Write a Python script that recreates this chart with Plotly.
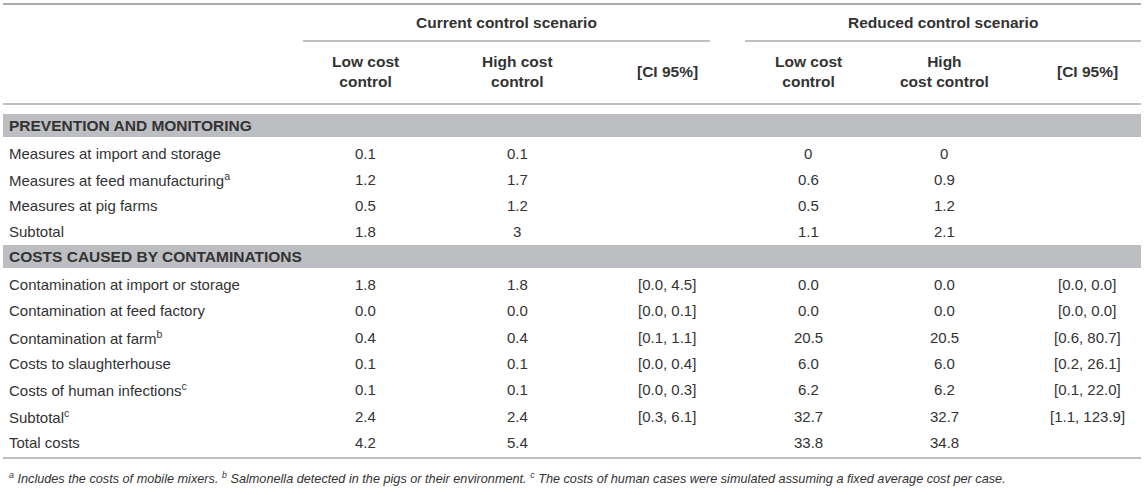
import plotly.graph_objects as go

# ---------------- data ----------------
group_headers = ["Current control scenario", "Reduced control scenario"]
col_headers = ["Low cost<br>control", "High cost<br>control", "[CI 95%]",
               "Low cost<br>control", "High<br>cost control", "[CI 95%]"]

section1_title = "PREVENTION AND MONITORING"
section1_rows = ["Measures at import and storage",
                 "Measures at feed manufacturing<sup>a</sup>",
                 "Measures at pig farms",
                 "Subtotal"]
s1_cur_low = ["0.1", "1.2", "0.5", "1.8"]
s1_cur_high = ["0.1", "1.7", "1.2", "3"]
s1_cur_ci = ["", "", "", ""]
s1_red_low = ["0", "0.6", "0.5", "1.1"]
s1_red_high = ["0", "0.9", "1.2", "2.1"]
s1_red_ci = ["", "", "", ""]

section2_title = "COSTS CAUSED BY CONTAMINATIONS"
section2_rows = ["Contamination at import or storage",
                 "Contamination at feed factory",
                 "Contamination at farm<sup>b</sup>",
                 "Costs to slaughterhouse",
                 "Costs of human infections<sup>c</sup>",
                 "Subtotal<sup>c</sup>",
                 "Total costs"]
s2_cur_low = ["1.8", "0.0", "0.4", "0.1", "0.1", "2.4", "4.2"]
s2_cur_high = ["1.8", "0.0", "0.4", "0.1", "0.1", "2.4", "5.4"]
s2_cur_ci = ["[0.0, 4.5]", "[0.0, 0.1]", "[0.1, 1.1]", "[0.0, 0.4]", "[0.0, 0.3]", "[0.3, 6.1]", ""]
s2_red_low = ["0.0", "0.0", "20.5", "6.0", "6.2", "32.7", "33.8"]
s2_red_high = ["0.0", "0.0", "20.5", "6.0", "6.2", "32.7", "34.8"]
s2_red_ci = ["[0.0, 0.0]", "[0.0, 0.0]", "[0.6, 80.7]", "[0.2, 26.1]", "[0.1, 22.0]", "[1.1, 123.9]", ""]

footnote = ("<sup>a</sup> Includes the costs of mobile mixers. "
            "<sup>b</sup> Salmonella detected in the pigs or their environment. "
            "<sup>c</sup> The costs of human cases were simulated assuming a fixed average cost per case.")

# ---------------- layout constants ----------------
W, H = 1145, 495
FONT = "Liberation Sans, Arial, Helvetica, sans-serif"
TXT = "#333333"
LINE = "#ababab"
BAND = "#bdbec1"
FS = 15
FS_B = 15.5

LEFT, RIGHT = 3, 1141
label_x = 7
col_x = [365, 517, 667, 808, 944, 1087]
head_x = [365, 517, 667, 808, 944, 1087]
group_spans = [(303, 710), (745, 1141)]

y_top = 4
y_group = 22
y_group_line = 41
y_head = 71
y_head_line = 104
band1 = (114, 137)
row_h = 26.3
s1_start = 153
band2 = (245, 268)
s2_start = 284.5
y_bottom = 458
y_foot = 478

fig = go.Figure()
fig.add_trace(go.Scatter(x=[0, W], y=[0, H], mode="markers",
                         marker=dict(opacity=0), hoverinfo="skip", showlegend=False))

shapes = []
ann = []

def hline(y, x0, x1, w=1.5):
    shapes.append(dict(type="line", xref="x", yref="y", x0=x0, x1=x1, y0=y, y1=y,
                       line=dict(color=LINE, width=w)))

def text(x, y, s, anchor="center", bold=False, size=FS, italic=False):
    if bold:
        s = "<b>" + s + "</b>"
    if italic:
        s = "<i>" + s + "</i>"
    ann.append(dict(x=x, y=y, xref="x", yref="y", text=s, showarrow=False,
                    xanchor=anchor, yanchor="middle", align="center",
                    font=dict(family=FONT, size=size, color=TXT)))

hline(y_top, LEFT, RIGHT, 2)
for (x0, x1), g in zip(group_spans, group_headers):
    text((x0 + x1) / 2, y_group, g, bold=True, size=FS_B)
    hline(y_group_line, x0, x1, 1.5)
for x, h in zip(head_x, col_headers):
    text(x, y_head, h, bold=True, size=FS_B)
hline(y_head_line, LEFT, RIGHT, 1.5)

for (b0, b1), title in [(band1, section1_title), (band2, section2_title)]:
    shapes.append(dict(type="rect", xref="x", yref="y", x0=LEFT, x1=RIGHT, y0=b0, y1=b1,
                       fillcolor=BAND, line=dict(width=0), layer="below"))
    text(label_x, (b0 + b1) / 2, title, anchor="left", bold=True, size=FS_B)

def section(start, labels, cols):
    for i, lab in enumerate(labels):
        y = start + i * row_h
        text(label_x, y, lab, anchor="left")
        for x, col in zip(col_x, cols):
            if col[i]:
                text(x, y, col[i])

section(s1_start, section1_rows, [s1_cur_low, s1_cur_high, s1_cur_ci, s1_red_low, s1_red_high, s1_red_ci])
section(s2_start, section2_rows, [s2_cur_low, s2_cur_high, s2_cur_ci, s2_red_low, s2_red_high, s2_red_ci])

hline(y_bottom, LEFT, RIGHT, 1.5)
text(label_x, y_foot, footnote, anchor="left", italic=True, size=12.7)

fig.update_layout(
    width=W, height=H,
    margin=dict(l=0, r=0, t=0, b=0),
    paper_bgcolor="white", plot_bgcolor="white",
    xaxis=dict(range=[0, W], visible=False, fixedrange=True),
    yaxis=dict(range=[H, 0], visible=False, fixedrange=True),
    shapes=shapes, annotations=ann, showlegend=False,
)
fig.write_html("out.html", config={"displayModeBar": False},
               post_script="document.body.style.margin='0';document.body.style.overflow='hidden';")
